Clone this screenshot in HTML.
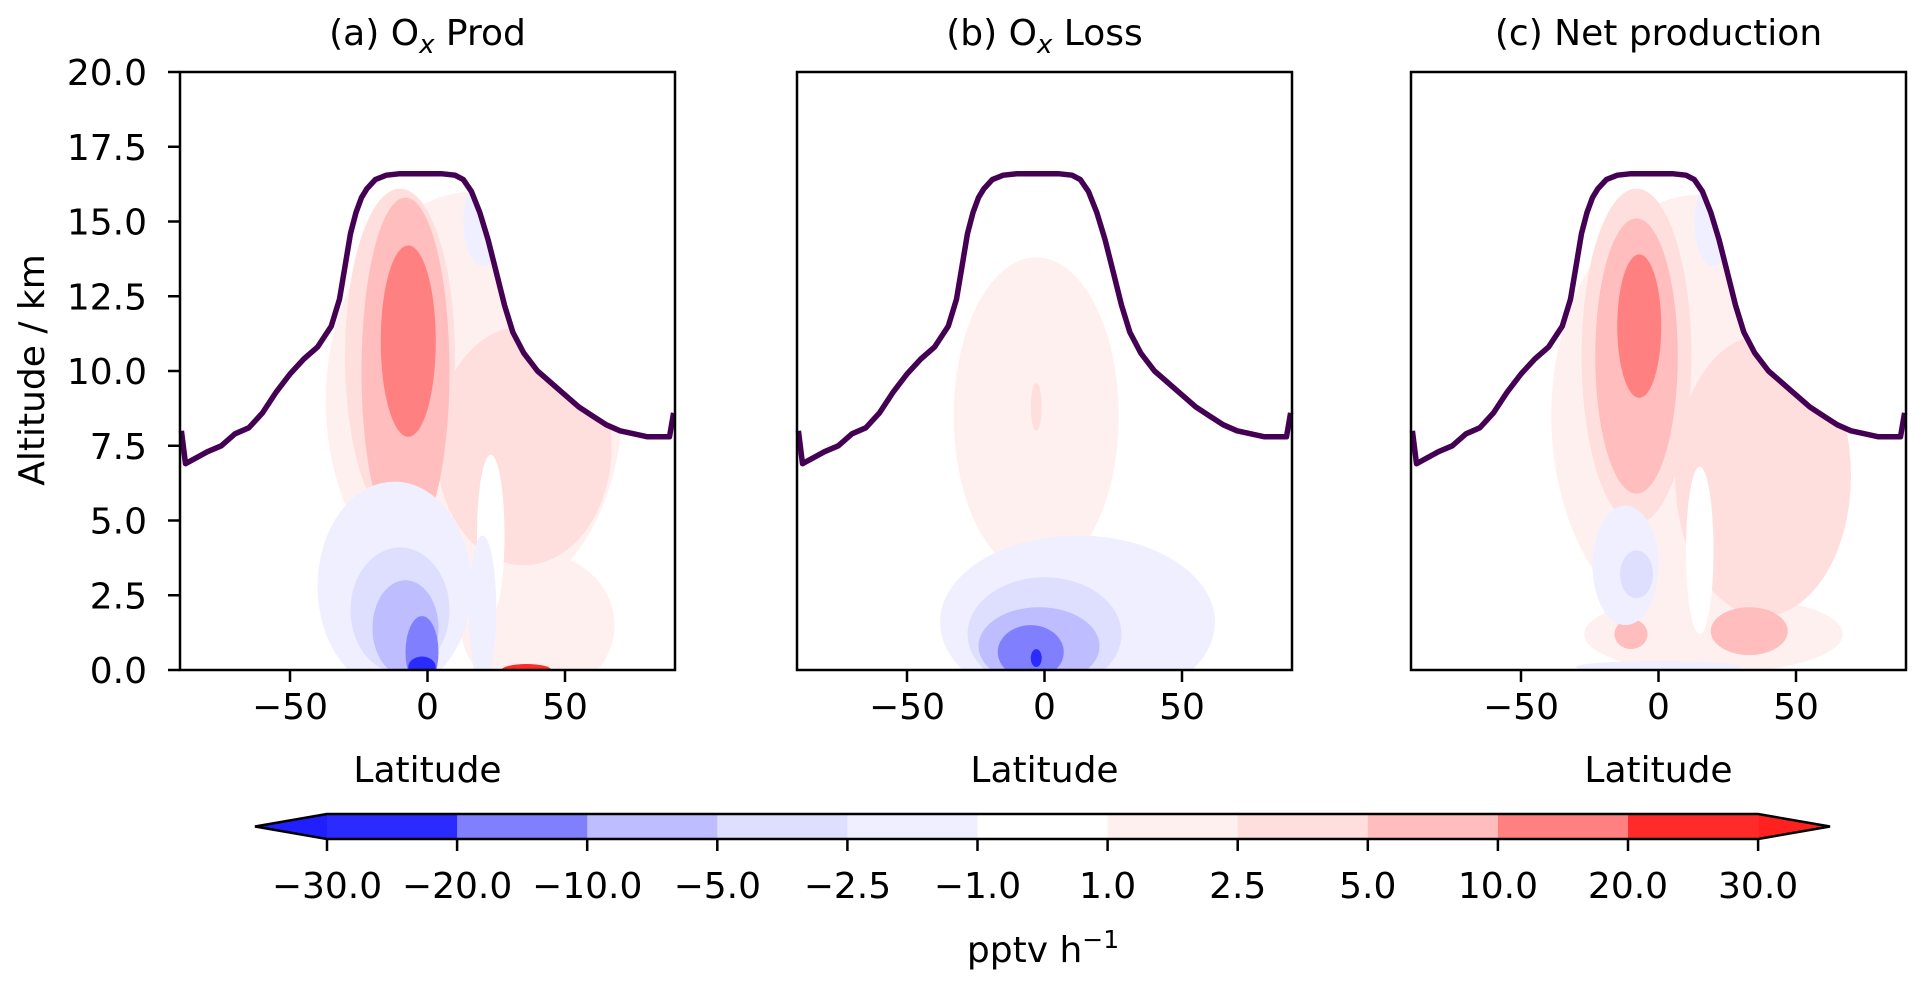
<!DOCTYPE html>
<html><head><meta charset="utf-8">
<style>
html,body{margin:0;padding:0;background:#fff;}
svg{display:block;font-family:"DejaVu Sans","Liberation Sans",sans-serif;}
</style></head>
<body>
<svg id="fig" width="1923" height="981" viewBox="0 0 1923 981"></svg>
<script>
const levelBounds = [-30, -20, -10, -5, -2.5, -1, 1, 2.5, 5, 10, 20, 30];
const levelColors = ['#2020ff','#2b2bff','#8080ff','#bdbdff','#dedeff','#efefff','#ffffff','#fff0f0','#ffdede','#ffbdbd','#ff8080','#ff2b2b','#ff2020'];
const colorbarLabels = ['\u221230.0','\u221220.0','\u221210.0','\u22125.0','\u22122.5','\u22121.0','1.0','2.5','5.0','10.0','20.0','30.0'];
const yTicks = [0, 2.5, 5, 7.5, 10, 12.5, 15, 17.5, 20];
const xTicks = [-50, 0, 50];
const panelTitles = ['(a) O','(b) O','(c) Net production'];
const tropLat = [-89.5,-88,-84,-80,-75,-70,-65,-60,-55,-50,-45,-40,-35,-32,-30,-28,-26,-24,-22,-19,-15,-10,-5,0,5,10,13,16,19,22,25,28,31,35,40,45,50,55,60,65,70,75,80,85,88,89.5];
const tropAlt = [8.0,6.9,7.1,7.3,7.5,7.9,8.1,8.6,9.3,9.9,10.4,10.8,11.5,12.4,13.5,14.6,15.3,15.8,16.1,16.4,16.55,16.6,16.6,16.6,16.6,16.55,16.4,16.0,15.3,14.4,13.3,12.2,11.3,10.6,10.0,9.6,9.2,8.8,8.5,8.2,8.0,7.9,7.8,7.8,7.8,8.6];
// field blobs per panel: [level value, lat centre, alt centre, lat half-width, alt half-height]
const blobsA = [
 [1.5,17,9,54,7],[1.5,40,1.5,28,2.4],
 [3,-10,10.5,20,5.6],[3,35,7.5,32,4],
 [7,-8,10,16,5.8],
 [15,-7,11,10,3.2],
 [0,23,4.5,5,2.7],
 [-1.5,-12,2.8,28,3.5],[-1.5,20,2,5,2.5],[-1.5,20,15,7,1.5],
 [-3,-10,2,18,2.1],
 [-7,-8,1.4,12,1.6],
 [-15,-2,0.6,6,1.2],
 [-25,-2,0.1,5,0.35],
 [25,36,0,9,0.2]
];
const blobsB = [
 [1.5,-3,8.5,30,5.3],
 [3,-3,8.8,2,0.8],
 [-1.5,12,1.6,50,2.9],
 [-3,0,1.2,28,1.9],
 [-7,-2,0.8,22,1.3],
 [-15,-5,0.6,12,0.9],
 [-25,-3,0.4,2,0.3]
];
const blobsC = [
 [1.5,15,8.5,54,7.4],[1.5,20,1.2,47,1.3],
 [3,-8,10.5,20,5.6],[3,38,6.5,32,4.7],
 [7,-8,10.5,15,4.6],[7,33,1.3,14,0.8],[7,-10,1.2,6,0.5],
 [15,-7,11.5,8,2.4],
 [0,15,4,5,2.8],
 [-1.5,-12,3.5,12,2],[-1.5,20,15,7,1.5],[-1.5,0,0.1,30,0.2],
 [-3,-8,3.2,6,0.8]
];
const panelBlobs = [blobsA, blobsB, blobsC];
const panelLeft = [180, 797, 1411];
const PW = 495, PT = 72, PB = 670;
const FS = 36;
const NS = 'http://www.w3.org/2000/svg';
const svg = document.getElementById('fig');
function mk(tag, attrs, parent){const e=document.createElementNS(NS,tag);for(const k in attrs)e.setAttribute(k,attrs[k]);(parent||svg).appendChild(e);return e;}
function colorFor(v){let i=0;while(i<levelBounds.length && v>=levelBounds[i])i++;return levelColors[i];}
const defs = mk('defs',{});
panelLeft.forEach((L,pi)=>{
  const xS = lat => L + (lat+90)*PW/180;
  const yS = alt => PB - alt*(PB-PT)/20;
  const g = mk('g',{});
  
  
  let d = '';
  tropLat.forEach((la,i)=>{d += (i?'L':'M')+xS(la).toFixed(1)+' '+yS(tropAlt[i]).toFixed(1);});
  const cp = mk('clipPath',{id:'clip'+pi},defs);
  mk('path',{d:d+'L'+xS(90)+' '+PB+'L'+xS(-90)+' '+PB+'Z'},cp);
  const field = mk('g',{'clip-path':'url(#clip'+pi+')'},g);
  
  
  panelBlobs[pi].forEach(b=>{
    const e = mk('ellipse',{cx:xS(b[1]),cy:yS(b[2]),rx:b[3]*PW/180,ry:b[4]*(PB-PT)/20,fill:colorFor(b[0])},field);
    
    
  });
  const tl = mk('path',{d:d,fill:'none',stroke:'#440154',"stroke-width":5.5,"stroke-linejoin":'round'},g);
  
  
  const fr = mk('rect',{x:L,y:PT,width:PW,height:PB-PT,fill:'none',stroke:'#000',"stroke-width":2.5},g);
  
  
  xTicks.forEach(t=>{
    mk('line',{x1:xS(t),x2:xS(t),y1:PB,y2:PB+12,stroke:'#000',"stroke-width":2.5},g);
    const tx = mk('text',{x:xS(t),y:PB+49,"font-size":FS,"text-anchor":'middle'},g);
    tx.textContent = t<0?'\u2212'+(-t):String(t);
    
    
  });
  const xl = mk('text',{x:L+PW/2,y:782,"font-size":FS,"text-anchor":'middle'},g);
  xl.textContent='Latitude';
  
  
  const ti = mk('text',{x:L+PW/2,y:45,"font-size":FS,"text-anchor":'middle'},g);
  ti.textContent = panelTitles[pi];
  if(pi<2){const s=mk('tspan',{"font-size":26,"font-style":'italic',dy:8},ti);s.textContent='x';const r=mk('tspan',{dy:-8},ti);r.textContent=pi==0?' Prod':' Loss';}
  
  
  if(pi===0){
    yTicks.forEach(t=>{
      mk('line',{x1:L-12,x2:L,y1:yS(t),y2:yS(t),stroke:'#000',"stroke-width":2.5},g);
      const ty = mk('text',{x:L-33,y:yS(t)+13,"font-size":FS,"text-anchor":'end'},g);
      ty.textContent=t.toFixed(1);
      
      
    });
    const yl = mk('text',{x:44,y:370,"font-size":FS,"text-anchor":'middle',transform:'rotate(-90 44 370)'},g);
    yl.textContent='Altitude / km';
    
    
  }
});
// colorbar
const cbG = mk('g',{});


const CB0=327, CBS=130.1, CT=814, CBt=839;
const cx = i => CB0 + i*CBS;
mk('path',{d:`M${cx(0)} ${CT}L255 ${(CT+CBt)/2}L${cx(0)} ${CBt}Z`,fill:levelColors[0]},cbG);
mk('path',{d:`M${cx(11)} ${CT}L1830 ${(CT+CBt)/2}L${cx(11)} ${CBt}Z`,fill:levelColors[12]},cbG);
for(let i=0;i<11;i++){
  const r = mk('rect',{x:cx(i),y:CT,width:CBS+0.5,height:CBt-CT,fill:levelColors[i+1]},cbG);
  
  
}
mk('path',{d:`M${cx(0)} ${CT}L255 ${(CT+CBt)/2}L${cx(0)} ${CBt}L${cx(11)} ${CBt}L1830 ${(CT+CBt)/2}L${cx(11)} ${CT}Z`,fill:'none',stroke:'#000',"stroke-width":2.5},cbG);
colorbarLabels.forEach((lab,i)=>{
  mk('line',{x1:cx(i),x2:cx(i),y1:CBt,y2:CBt+12,stroke:'#000',"stroke-width":2.5},cbG);
  const t = mk('text',{x:cx(i),y:898,"font-size":FS,"text-anchor":'middle'},cbG);
  t.textContent=lab;
  
  
});
const ut = mk('text',{x:1043,y:962,"font-size":FS,"text-anchor":'middle'},cbG);
ut.textContent='pptv h';
const sup = mk('tspan',{"font-size":25,dy:-14},ut); sup.textContent='\u22121';


</script>
</body></html>
